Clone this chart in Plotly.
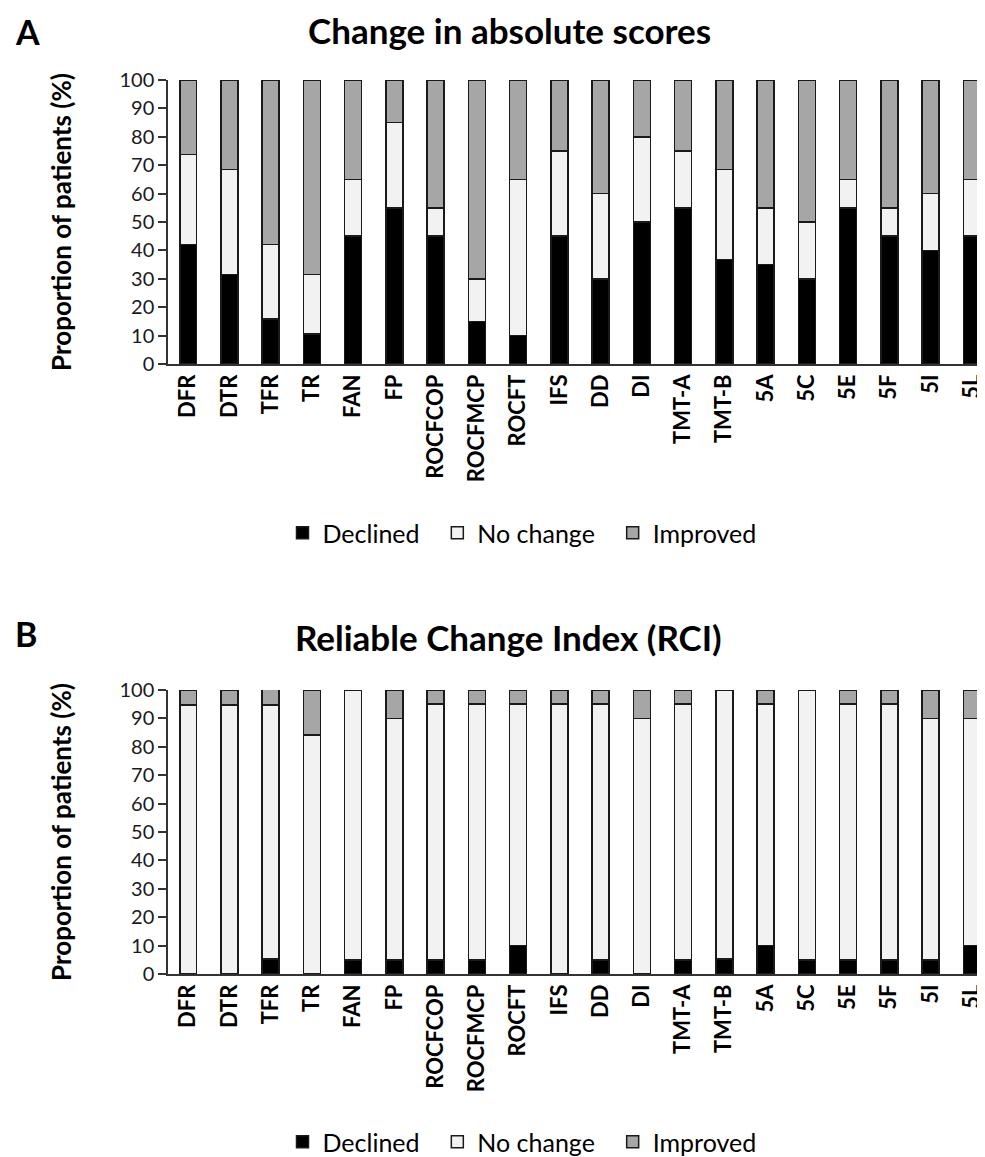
import plotly.graph_objects as go

categories = ["DFR", "DTR", "TFR", "TR", "FAN", "FP", "ROCFCOP", "ROCFMCP", "ROCFT", "IFS",
              "DD", "DI", "TMT-A", "TMT-B", "5A", "5C", "5E", "5F", "5I", "5L"]

# Panel A: change in absolute scores (%)
a_declined = [42.1, 31.6, 15.8, 10.5, 45, 55, 45, 15, 10, 45, 30, 50, 55, 36.8, 35, 30, 55, 45, 40, 45]
a_nochange = [31.6, 36.8, 26.3, 21.1, 20, 30, 10, 15, 55, 30, 30, 30, 20, 31.6, 20, 20, 10, 10, 20, 20]
a_improved = [26.3, 31.6, 57.9, 68.4, 35, 15, 45, 70, 35, 25, 40, 20, 25, 31.6, 45, 50, 35, 45, 40, 35]

# Panel B: reliable change index (%)
b_declined = [0, 0, 5.3, 0, 5, 5, 5, 5, 10, 0, 5, 0, 5, 5.3, 10, 5, 5, 5, 5, 10]
b_nochange = [94.7, 94.7, 89.5, 84.2, 95, 85, 90, 90, 85, 95, 90, 90, 90, 94.7, 85, 95, 90, 90, 85, 80]
b_improved = [5.3, 5.3, 5.3, 15.8, 0, 10, 5, 5, 5, 5, 5, 10, 5, 0, 5, 0, 5, 5, 10, 10]

y_ticks = [0, 10, 20, 30, 40, 50, 60, 70, 80, 90, 100]
series_names = ["Declined", "No change", "Improved"]
series_colors = ["#000000", "#f2f2f2", "#a6a6a6"]

OFF = 8                      # page body margin
W, H = 985 - OFF, 1157 - OFF
FONT = "Lato"
NBSP = "\u00a0"
legend_pad = [NBSP * 2, NBSP * 2, ""]

fig = go.Figure()

def add_panel(vals, xa, ya, legend_id):
    for name, pad, v, c in zip(series_names, legend_pad, vals, series_colors):
        fig.add_trace(go.Bar(
            x=categories, y=v, name=name + pad, xaxis=xa, yaxis=ya,
            marker=dict(color=c, line=dict(color="#1a1a1a", width=1.5)),
            width=0.41, legend=legend_id, hoverinfo="x+y+name",
        ))

add_panel([a_declined, a_nochange, a_improved], "x", "y", "legend")
add_panel([b_declined, b_nochange, b_improved], "x2", "y2", "legend2")

def px_(x):
    return (x - OFF) / W

def py(y):
    return 1 - (y - OFF) / H

x_dom = [px_(168), 1.0]
axis_x = dict(domain=x_dom, type="category", range=[-0.49, 19.32], showline=True,
              linecolor="#333333", linewidth=1.5, ticks="", tickangle=-90,
              tickfont=dict(family=FONT, size=22, color="#000000", weight="bold"),
              showgrid=False, zeroline=False, fixedrange=True, automargin=False)
axis_y = dict(range=[0, 100], tickvals=y_ticks, showline=True, linecolor="#333333",
              linewidth=1.5, ticks="outside", ticklen=8, tickwidth=1.5, tickcolor="#333333",
              tickfont=dict(family=FONT, size=20, color="#1a1a1a"), showgrid=False,
              zeroline=False, fixedrange=True, automargin=False)

legend_common = dict(orientation="h", x=px_(522), xanchor="center", yanchor="middle",
                     font=dict(family=FONT, size=25, color="#000000"), traceorder="normal",
                     itemwidth=30, bgcolor="rgba(0,0,0,0)")

fig.update_layout(
    width=W, height=H,
    margin=dict(l=0, r=0, t=0, b=0, autoexpand=False),
    paper_bgcolor="white", plot_bgcolor="white",
    barmode="stack",
    font=dict(family=FONT, color="#000000"),
    xaxis=dict(axis_x, anchor="y"),
    yaxis=dict(axis_y, domain=[py(364), py(80)], anchor="x"),
    xaxis2=dict(axis_x, anchor="y2"),
    yaxis2=dict(axis_y, domain=[py(974), py(690)], anchor="x2"),
    legend=dict(legend_common, y=py(533)),
    legend2=dict(legend_common, y=py(1142)),
    showlegend=True,
)

annos = [
    dict(text="<b>A</b>", x=px_(13), y=py(31), xanchor="left", yanchor="middle", font=dict(size=34)),
    dict(text="<b>B</b>", x=px_(13), y=py(633), xanchor="left", yanchor="middle", font=dict(size=34)),
    dict(text="<b>Change in absolute scores</b>", x=px_(509), y=py(30), xanchor="center",
         yanchor="middle", font=dict(size=35)),
    dict(text="<b>Reliable Change Index (RCI)</b>", x=px_(508), y=py(637), xanchor="center",
         yanchor="middle", font=dict(size=35)),
    dict(text="<b>Proportion of patients (%)</b>", x=px_(61), y=py(222), xanchor="center",
         yanchor="middle", textangle=-90, font=dict(size=26)),
    dict(text="<b>Proportion of patients (%)</b>", x=px_(61), y=py(832), xanchor="center",
         yanchor="middle", textangle=-90, font=dict(size=26)),
]
for a in annos:
    a.update(xref="paper", yref="paper", showarrow=False)
    a["font"].update(family=FONT, color="#000000")
fig.update_layout(annotations=annos)

fig.write_html("out.html")
